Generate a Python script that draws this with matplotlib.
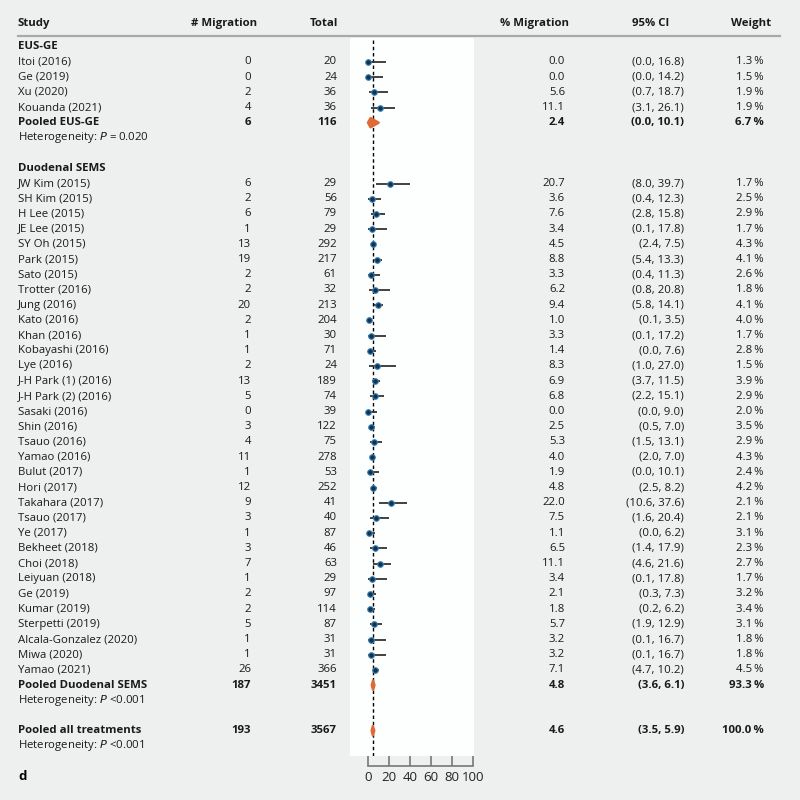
import numpy as np
import matplotlib.pyplot as plt
import matplotlib.transforms as mtransforms
from matplotlib.lines import Line2D
from matplotlib.patches import Polygon

plt.rcParams['font.family'] = ['Open Sans', 'DejaVu Sans']

# EUS-GE studies
eus_names = ["Itoi (2016)", "Ge (2019)", "Xu (2020)", "Kouanda (2021)"]
eus_events = [0, 0, 2, 4]
eus_totals = [20, 24, 36, 36]
eus_pct = [0.0, 0.0, 5.6, 11.1]
eus_lo = [0.0, 0.0, 0.7, 3.1]
eus_hi = [16.8, 14.2, 18.7, 26.1]
eus_weight = [1.3, 1.5, 1.9, 1.9]

# Duodenal SEMS studies
sems_names = ["JW Kim (2015)", "SH Kim (2015)", "H Lee (2015)", "JE Lee (2015)", "SY Oh (2015)",
              "Park (2015)", "Sato (2015)", "Trotter (2016)", "Jung (2016)", "Kato (2016)",
              "Khan (2016)", "Kobayashi (2016)", "Lye (2016)", "J-H Park (1) (2016)",
              "J-H Park (2) (2016)", "Sasaki (2016)", "Shin (2016)", "Tsauo (2016)",
              "Yamao (2016)", "Bulut (2017)", "Hori (2017)", "Takahara (2017)", "Tsauo (2017)",
              "Ye (2017)", "Bekheet (2018)", "Choi (2018)", "Leiyuan (2018)", "Ge (2019)",
              "Kumar (2019)", "Sterpetti (2019)", "Alcala-Gonzalez (2020)", "Miwa (2020)",
              "Yamao (2021)"]
sems_events = [6, 2, 6, 1, 13, 19, 2, 2, 20, 2, 1, 1, 2, 13, 5, 0, 3, 4, 11, 1, 12, 9, 3, 1,
               3, 7, 1, 2, 2, 5, 1, 1, 26]
sems_totals = [29, 56, 79, 29, 292, 217, 61, 32, 213, 204, 30, 71, 24, 189, 74, 39, 122, 75,
               278, 53, 252, 41, 40, 87, 46, 63, 29, 97, 114, 87, 31, 31, 366]
sems_pct = [20.7, 3.6, 7.6, 3.4, 4.5, 8.8, 3.3, 6.2, 9.4, 1.0, 3.3, 1.4, 8.3, 6.9, 6.8, 0.0,
            2.5, 5.3, 4.0, 1.9, 4.8, 22.0, 7.5, 1.1, 6.5, 11.1, 3.4, 2.1, 1.8, 5.7, 3.2, 3.2, 7.1]
sems_lo = [8.0, 0.4, 2.8, 0.1, 2.4, 5.4, 0.4, 0.8, 5.8, 0.1, 0.1, 0.0, 1.0, 3.7, 2.2, 0.0,
           0.5, 1.5, 2.0, 0.0, 2.5, 10.6, 1.6, 0.0, 1.4, 4.6, 0.1, 0.3, 0.2, 1.9, 0.1, 0.1, 4.7]
sems_hi = [39.7, 12.3, 15.8, 17.8, 7.5, 13.3, 11.3, 20.8, 14.1, 3.5, 17.2, 7.6, 27.0, 11.5,
           15.1, 9.0, 7.0, 13.1, 7.0, 10.1, 8.2, 37.6, 20.4, 6.2, 17.9, 21.6, 17.8, 7.3, 6.2,
           12.9, 16.7, 16.7, 10.2]
sems_weight = [1.7, 2.5, 2.9, 1.7, 4.3, 4.1, 2.6, 1.8, 4.1, 4.0, 1.7, 2.8, 1.5, 3.9, 2.9, 2.0,
               3.5, 2.9, 4.3, 2.4, 4.2, 2.1, 2.1, 3.1, 2.3, 2.7, 1.7, 3.2, 3.4, 3.1, 1.8, 1.8, 4.5]

# Pooled estimates: EUS-GE, Duodenal SEMS, all treatments
pooled_names = ["Pooled EUS-GE", "Pooled Duodenal SEMS", "Pooled all treatments"]
pooled_events = [6, 187, 193]
pooled_totals = [116, 3451, 3567]
pooled_pct = [2.4, 4.8, 4.6]
pooled_lo = [0.0, 3.6, 3.5]
pooled_hi = [10.1, 6.1, 5.9]
pooled_weight = [6.7, 93.3, 100.0]
heterogeneity = ["0.020", "<0.001", "<0.001"]

headers = ["Study", "# Migration", "Total", "% Migration", "95% CI", "Weight"]
xticks = [0, 20, 40, 60, 80, 100]

bg = '#eef0f0'
navy = '#0d3455'
orange = '#e06a35'
fs = 8.2

# row layout (row index -> y in axes data)
eus_rows = np.arange(1, 1 + len(eus_names))
pool_rows = [5, 42, 45]
het_rows = [6, 43, 46]
sems_rows = np.arange(9, 9 + len(sems_names))

fig = plt.figure(figsize=(8, 8), dpi=100, facecolor=bg)
top_px, bot_px = 37.5, 756
ax = fig.add_axes([350 / 800, 1 - bot_px / 800, 123.5 / 800, (bot_px - top_px) / 800])
ax.set_facecolor('#fdfefe')
row0, step = 46.7, 15.2
ax.set_ylim((bot_px - row0) / step, (top_px - row0) / step)
ax.set_xlim(-17.2, 100.6)

# study CIs and points
for rows, pct, lo, hi in [(eus_rows, eus_pct, eus_lo, eus_hi),
                          (sems_rows, sems_pct, sems_lo, sems_hi)]:
    ax.hlines(rows, lo, hi, color='#333333', lw=1.3, zorder=3)
    ax.plot(pct, rows, 'o', ms=4.0, mfc=navy, mec='#3f7fae', mew=0.8, zorder=4)

# pooled diamonds
for r, p, lo, hi in zip(pool_rows, pooled_pct, pooled_lo, pooled_hi):
    ax.add_patch(Polygon([(lo, r), (p, r - 0.3), (hi, r), (p, r + 0.3)],
                         closed=True, fc=orange, ec=orange, lw=1.8, joinstyle='round',
                         zorder=4))

ax.axvline(pooled_pct[2], color='black', ls=(0, (2.5, 2)), lw=1.0, zorder=2)

for s in ['top', 'right', 'left']:
    ax.spines[s].set_visible(False)
ax.spines['bottom'].set_position(('outward', 7.5))
ax.spines['bottom'].set_bounds(0, 100)
ax.spines['bottom'].set_color('#777777')
ax.spines['bottom'].set_linewidth(1.2)
ax.set_yticks([])
ax.set_xticks(xticks)
ax.tick_params(axis='x', direction='in', length=7.5, width=1.2, color='#777777',
               labelsize=9.5, pad=3, labelcolor='#222222')

# table text
trans = mtransforms.blended_transform_factory(fig.transFigure, ax.transData)
col_study = 18 / 800
col_ev = 251 / 800
col_tot = 337 / 800
col_pct = 565 / 800
col_ci = 684 / 800
col_w = 764 / 800


def row_text(r, name, ev, tot, pct, lo, hi, w, weight='normal'):
    kw = dict(transform=trans, va='center', fontsize=fs, fontweight=weight, color='#1a1a1a')
    ax.text(col_study, r, name, ha='left', **kw)
    ax.text(col_ev, r, f"{ev}", ha='right', **kw)
    ax.text(col_tot, r, f"{tot}", ha='right', **kw)
    ax.text(col_pct, r, f"{pct:.1f}", ha='right', **kw)
    ax.text(col_ci, r, f"({lo:.1f}, {hi:.1f})", ha='right', **kw)
    ax.text(col_w, r, f"{w:.1f}\u2009%", ha='right', **kw)


hy = -1.5
hkw = dict(transform=trans, va='center', fontsize=fs, fontweight='bold', color='#1a1a1a')
ax.text(col_study, hy, headers[0], ha='left', **hkw)
ax.text(257 / 800, hy, headers[1], ha='right', **hkw)
ax.text(338 / 800, hy, headers[2], ha='right', **hkw)
ax.text(569 / 800, hy, headers[3], ha='right', **hkw)
ax.text(651 / 800, hy, headers[4], ha='center', **hkw)
ax.text(771 / 800, hy, headers[5], ha='right', **hkw)
fig.add_artist(Line2D([18 / 800, 780 / 800], [1 - 36 / 800, 1 - 36 / 800],
                      color='#a9a9a9', lw=1.6, transform=fig.transFigure))

ax.text(col_study, 0, "EUS-GE", ha='left', **hkw)
ax.text(col_study, 8, "Duodenal SEMS", ha='left', **hkw)

for i, r in enumerate(eus_rows):
    row_text(r, eus_names[i], eus_events[i], eus_totals[i], eus_pct[i], eus_lo[i],
             eus_hi[i], eus_weight[i])
for i, r in enumerate(sems_rows):
    row_text(r, sems_names[i], sems_events[i], sems_totals[i], sems_pct[i], sems_lo[i],
             sems_hi[i], sems_weight[i])
for i, r in enumerate(pool_rows):
    row_text(r, pooled_names[i], pooled_events[i], pooled_totals[i], pooled_pct[i],
             pooled_lo[i], pooled_hi[i], pooled_weight[i], weight='bold')
    p = heterogeneity[i]
    sep = " = " if p[0] != '<' else " "
    ax.text(col_study, het_rows[i], "Heterogeneity: $\\it{P}$" + sep + p, transform=trans,
            ha='left', va='center', fontsize=fs, color='#1a1a1a')

fig.text(18 / 800, 1 - 777 / 800, "d", ha='left', va='center', fontsize=9.5, fontweight='bold')

plt.savefig('out.png', dpi=100, facecolor=bg)
